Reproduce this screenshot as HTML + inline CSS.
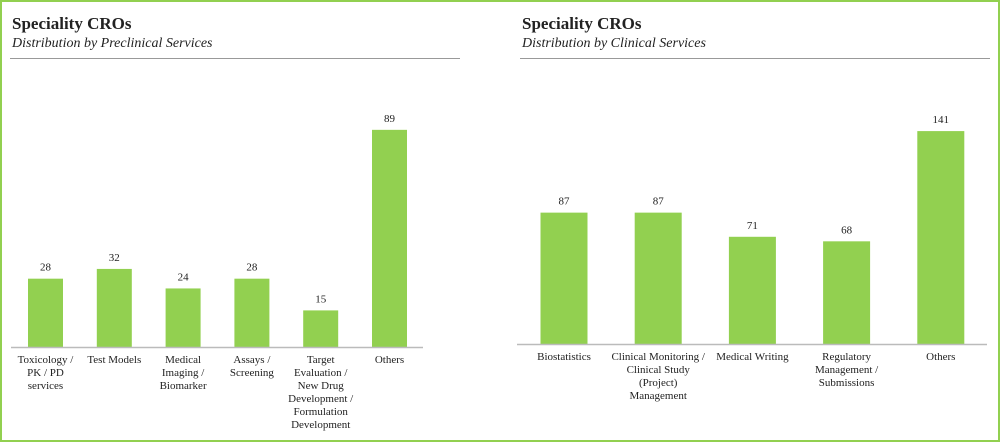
<!DOCTYPE html>
<html><head><meta charset="utf-8"><style>
html,body{margin:0;padding:0;background:#fff}
#frame{position:absolute;left:0;top:0;width:996px;height:438px;border:2px solid #92D050;background:#fff}
svg{position:absolute;left:0;top:0}
text{font-family:"Liberation Serif",serif;fill:#222}
</style></head><body>
<div id="frame"></div>
<svg id="svg" width="1000" height="442"></svg>
<script>
const leftCats=[["Toxicology /","PK / PD","services"],["Test Models"],["Medical","Imaging /","Biomarker"],["Assays /","Screening"],["Target","Evaluation /","New Drug","Development /","Formulation","Development"],["Others"]];
const leftVals=[28,32,24,28,15,89];
const rightCats=[["Biostatistics"],["Clinical Monitoring /","Clinical Study","(Project)","Management"],["Medical Writing"],["Regulatory","Management /","Submissions"],["Others"]];
const rightVals=[87,87,71,68,141];
const NS="http://www.w3.org/2000/svg";
const svg=document.getElementById('svg');
function mk(tag,attrs,txt){const e=document.createElementNS(NS,tag);for(const k in attrs)e.setAttribute(k,attrs[k]);if(txt!==undefined)e.textContent=txt;svg.appendChild(e);return e;}
function chart(cfg){
  let t=mk('text',{x:cfg.x0+2,y:29,'font-size':17,'font-weight':'bold'},'Speciality CROs');
  
  
  t=mk('text',{x:cfg.x0+2,y:47,'font-size':14,'font-style':'italic'},cfg.sub);
  
  
  let l=mk('line',{x1:cfg.x0,x2:cfg.x0+cfg.hw,y1:58.5,y2:58.5,stroke:'#999','stroke-width':1});
  
  
  const yS=v=>cfg.base-v*cfg.k;
  cfg.vals.forEach((v,i)=>{
    const cx=cfg.first+i*cfg.step;
    const r=mk('rect',{x:cx-cfg.bw/2,y:yS(v),width:cfg.bw,height:cfg.base-yS(v),fill:'#92D050'});
    
    
    const vt=mk('text',{x:cx,y:yS(v)-8,'font-size':11,'text-anchor':'middle'},v);
    
    
    cfg.cats[i].forEach((s,j)=>{
      const c=mk('text',{x:cx,y:cfg.base+16+j*13,'font-size':11,'text-anchor':'middle'},s);
      
      
    });
  });
  l=mk('line',{x1:cfg.ax1,x2:cfg.ax2,y1:cfg.base+0.5,y2:cfg.base+0.5,stroke:'#bbb','stroke-width':1.5});
  
  
}
chart({id:'preclinical',x0:10,hw:450,sub:'Distribution by Preclinical Services',cats:leftCats,vals:leftVals,base:347,k:2.44,first:45.5,step:68.8,bw:35,ax1:11,ax2:423});
chart({id:'clinical',x0:520,hw:470,sub:'Distribution by Clinical Services',cats:rightCats,vals:rightVals,base:344,k:1.51,first:564,step:94.2,bw:47,ax1:517,ax2:987});
</script>
</body></html>
